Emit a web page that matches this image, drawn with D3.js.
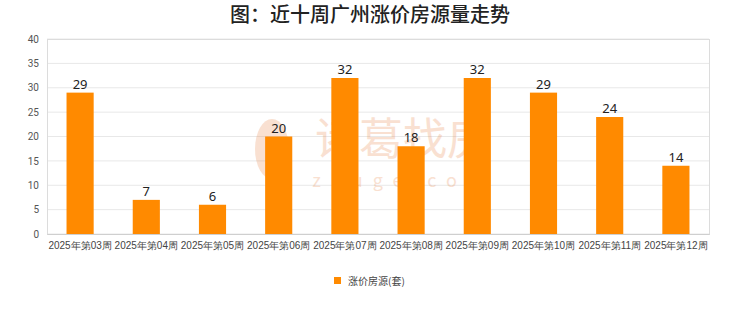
<!DOCTYPE html>
<html>
<head>
<meta charset="utf-8">
<script src="https://cdn.jsdelivr.net/npm/d3@7"></script>
<style>
  body { margin: 0; background: #fff; }
  svg { display: block; font-family: "Noto Sans CJK SC", "Noto Sans", sans-serif; }
</style>
</head>
<body>
<script>
const weeks = ['2025年第03周', '2025年第04周', '2025年第05周', '2025年第06周', '2025年第07周',
  '2025年第08周', '2025年第09周', '2025年第10周', '2025年第11周', '2025年第12周'];
const risingListings = [29, 7, 6, 20, 32, 18, 32, 29, 24, 14];
const yTicks = [0, 5, 10, 15, 20, 25, 30, 35, 40];

const svgWidth = 740;
const svgHeight = 312;
const margin = { top: 39, right: 31, bottom: 78, left: 47 };
const width = svgWidth - margin.left - margin.right;
const height = svgHeight - margin.top - margin.bottom;

const root = d3.select('body')
  .append('svg')
  .attr('width', svgWidth)
  .attr('height', svgHeight);

root.append('text')
  .attr('x', svgWidth / 2)
  .attr('y', 22)
  .attr('text-anchor', 'middle')
  .attr('font-size', 20)
  .attr('font-weight', 500)
  .attr('fill', '#222')
  .text('图：近十周广州涨价房源量走势');

const svg = root.append('g')
  .attr('transform', `translate(${margin.left}, ${margin.top})`);

const x = d3.scaleBand()
  .domain(weeks)
  .range([0, width])
  .paddingInner(0.59)
  .paddingOuter(0.295);

const y = d3.scaleLinear()
  .domain([0, 40])
  .range([height, 0]);

// gridlines
svg.append('g')
  .selectAll('line')
  .data(yTicks)
  .enter()
  .append('line')
  .attr('x1', 0)
  .attr('x2', width)
  .attr('y1', d => y(d))
  .attr('y2', d => y(d))
  .attr('stroke', '#e8e8e8')
  .attr('stroke-width', 1);

// watermark
const wm = svg.append('g').attr('opacity', 0.25).attr('fill', '#e8874a');
wm.append('text')
  .attr('x', 356)
  .attr('y', 116)
  .attr('text-anchor', 'middle')
  .attr('font-size', 44)
  .text('诸葛找房');
wm.append('text')
  .attr('x', 356)
  .attr('y', 148)
  .attr('text-anchor', 'middle')
  .attr('font-size', 18)
  .attr('letter-spacing', 10)
  .text('zhuge.com');
wm.append('ellipse')
  .attr('cx', 225)
  .attr('cy', 110)
  .attr('rx', 17)
  .attr('ry', 30);

// axis frame
svg.append('rect')
  .attr('x', 0.5)
  .attr('y', 0.5)
  .attr('width', width)
  .attr('height', height)
  .attr('fill', 'none')
  .attr('stroke', '#dcdcdc');

const yAxis = svg.append('g')
  .call(d3.axisLeft(y).tickValues(yTicks).tickSize(0).tickPadding(8));
yAxis.select('.domain').remove();
yAxis.selectAll('text')
  .attr('font-size', 10)
  .attr('fill', '#555')
  .attr('font-family', 'Roboto, sans-serif');

const xAxis = svg.append('g')
  .attr('transform', `translate(0, ${height})`)
  .call(d3.axisBottom(x).tickSize(0).tickPadding(8));
xAxis.select('.domain').attr('stroke', '#cfcfcf');
xAxis.selectAll('text')
  .attr('font-size', 10)
  .attr('fill', '#444');

svg.selectAll('.bar')
  .data(risingListings)
  .enter()
  .append('rect')
  .attr('class', 'bar')
  .attr('x', (d, i) => x(weeks[i]))
  .attr('y', d => y(d))
  .attr('width', x.bandwidth())
  .attr('height', d => height - y(d))
  .attr('fill', '#ff8a00');

svg.selectAll('.label')
  .data(risingListings)
  .enter()
  .append('text')
  .attr('class', 'label')
  .attr('x', (d, i) => x(weeks[i]) + x.bandwidth() / 2)
  .attr('y', d => y(d) - 4)
  .attr('text-anchor', 'middle')
  .attr('font-size', 13)
  .attr('fill', '#222')
  .attr('font-family', '"Noto Sans", sans-serif')
  .text(d => d);

// legend
const legend = root.append('g').attr('transform', 'translate(334, 281)');
legend.append('rect')
  .attr('x', 0)
  .attr('y', -4)
  .attr('width', 7)
  .attr('height', 7)
  .attr('fill', '#ff8a00');
legend.append('text')
  .attr('x', 14)
  .attr('y', 3.5)
  .attr('font-size', 10)
  .attr('fill', '#444')
  .text('涨价房源(套)');
</script>
</body>
</html>
